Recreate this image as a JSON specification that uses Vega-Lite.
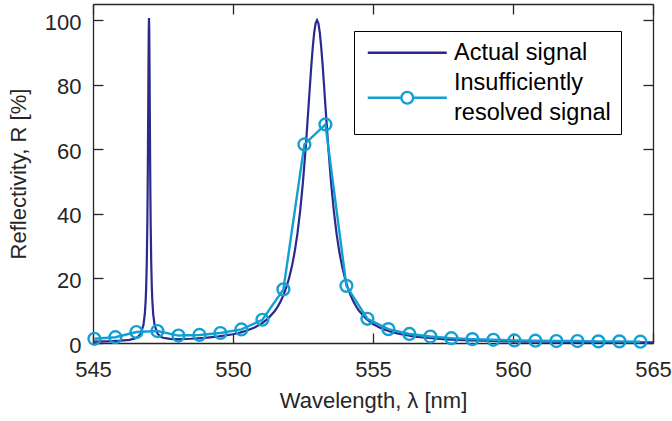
{
  "$schema": "https://vega.github.io/schema/vega-lite/v6.json",
  "width": 560,
  "height": 339,
  "autosize": {"type": "none"},
  "padding": {"left": 93, "top": 4, "right": 19, "bottom": 78},
  "background": "#ffffff",
  "config": {
    "view": {"stroke": null},
    "font": "Liberation Sans",
    "axis": {
      "grid": false,
      "domainColor": "#262626",
      "domainWidth": 1.3,
      "tickColor": "#262626",
      "tickWidth": 1.3,
      "tickSize": -10,
      "labelFlush": false,
      "labelFont": "Liberation Sans",
      "labelFontSize": 22,
      "labelColor": "#262626",
      "titleFont": "Liberation Sans",
      "titleFontSize": 22,
      "titleFontWeight": "normal",
      "titleColor": "#262626"
    }
  },
  "data": {
    "values": [
      {"x": 545.0, "y": 0.44, "s": "Actual signal"},
      {"x": 545.5, "y": 0.53, "s": "Actual signal"},
      {"x": 546.0, "y": 0.71, "s": "Actual signal"},
      {"x": 546.3, "y": 0.96, "s": "Actual signal"},
      {"x": 546.5, "y": 1.39, "s": "Actual signal"},
      {"x": 546.6, "y": 1.85, "s": "Actual signal"},
      {"x": 546.7, "y": 2.83, "s": "Actual signal"},
      {"x": 546.8, "y": 5.47, "s": "Actual signal"},
      {"x": 546.85, "y": 8.92, "s": "Actual signal"},
      {"x": 546.88, "y": 12.96, "s": "Actual signal"},
      {"x": 546.9, "y": 17.47, "s": "Actual signal"},
      {"x": 546.92, "y": 24.67, "s": "Actual signal"},
      {"x": 546.94, "y": 36.67, "s": "Actual signal"},
      {"x": 546.95, "y": 45.37, "s": "Actual signal"},
      {"x": 546.96, "y": 56.57, "s": "Actual signal"},
      {"x": 546.97, "y": 69.87, "s": "Actual signal"},
      {"x": 546.98, "y": 84.17, "s": "Actual signal"},
      {"x": 546.99, "y": 95.97, "s": "Actual signal"},
      {"x": 547.0, "y": 100.69, "s": "Actual signal"},
      {"x": 547.01, "y": 95.97, "s": "Actual signal"},
      {"x": 547.02, "y": 84.17, "s": "Actual signal"},
      {"x": 547.03, "y": 69.87, "s": "Actual signal"},
      {"x": 547.04, "y": 56.57, "s": "Actual signal"},
      {"x": 547.05, "y": 45.4, "s": "Actual signal"},
      {"x": 547.06, "y": 36.7, "s": "Actual signal"},
      {"x": 547.08, "y": 24.7, "s": "Actual signal"},
      {"x": 547.1, "y": 17.5, "s": "Actual signal"},
      {"x": 547.12, "y": 13.0, "s": "Actual signal"},
      {"x": 547.15, "y": 8.97, "s": "Actual signal"},
      {"x": 547.2, "y": 5.56, "s": "Actual signal"},
      {"x": 547.3, "y": 2.96, "s": "Actual signal"},
      {"x": 547.4, "y": 2.04, "s": "Actual signal"},
      {"x": 547.5, "y": 1.62, "s": "Actual signal"},
      {"x": 547.75, "y": 1.26, "s": "Actual signal"},
      {"x": 548.0, "y": 1.19, "s": "Actual signal"},
      {"x": 548.5, "y": 1.31, "s": "Actual signal"},
      {"x": 549.0, "y": 1.59, "s": "Actual signal"},
      {"x": 549.5, "y": 2.03, "s": "Actual signal"},
      {"x": 550.0, "y": 2.72, "s": "Actual signal"},
      {"x": 550.25, "y": 3.21, "s": "Actual signal"},
      {"x": 550.5, "y": 3.86, "s": "Actual signal"},
      {"x": 550.75, "y": 4.72, "s": "Actual signal"},
      {"x": 551.0, "y": 5.89, "s": "Actual signal"},
      {"x": 551.25, "y": 7.56, "s": "Actual signal"},
      {"x": 551.5, "y": 10.0, "s": "Actual signal"},
      {"x": 551.6, "y": 11.31, "s": "Actual signal"},
      {"x": 551.7, "y": 12.89, "s": "Actual signal"},
      {"x": 551.8, "y": 14.79, "s": "Actual signal"},
      {"x": 551.9, "y": 17.12, "s": "Actual signal"},
      {"x": 552.0, "y": 20.0, "s": "Actual signal"},
      {"x": 552.1, "y": 23.58, "s": "Actual signal"},
      {"x": 552.2, "y": 28.09, "s": "Actual signal"},
      {"x": 552.3, "y": 33.78, "s": "Actual signal"},
      {"x": 552.4, "y": 40.98, "s": "Actual signal"},
      {"x": 552.5, "y": 50.0, "s": "Actual signal"},
      {"x": 552.6, "y": 60.98, "s": "Actual signal"},
      {"x": 552.7, "y": 73.53, "s": "Actual signal"},
      {"x": 552.75, "y": 80.0, "s": "Actual signal"},
      {"x": 552.8, "y": 86.21, "s": "Actual signal"},
      {"x": 552.85, "y": 91.74, "s": "Actual signal"},
      {"x": 552.9, "y": 96.15, "s": "Actual signal"},
      {"x": 552.95, "y": 99.0, "s": "Actual signal"},
      {"x": 553.0, "y": 100.0, "s": "Actual signal"},
      {"x": 553.05, "y": 99.0, "s": "Actual signal"},
      {"x": 553.1, "y": 96.15, "s": "Actual signal"},
      {"x": 553.15, "y": 91.74, "s": "Actual signal"},
      {"x": 553.2, "y": 86.21, "s": "Actual signal"},
      {"x": 553.25, "y": 80.0, "s": "Actual signal"},
      {"x": 553.3, "y": 73.53, "s": "Actual signal"},
      {"x": 553.4, "y": 60.98, "s": "Actual signal"},
      {"x": 553.5, "y": 50.0, "s": "Actual signal"},
      {"x": 553.6, "y": 40.98, "s": "Actual signal"},
      {"x": 553.7, "y": 33.78, "s": "Actual signal"},
      {"x": 553.8, "y": 28.09, "s": "Actual signal"},
      {"x": 553.9, "y": 23.58, "s": "Actual signal"},
      {"x": 554.0, "y": 20.0, "s": "Actual signal"},
      {"x": 554.1, "y": 17.12, "s": "Actual signal"},
      {"x": 554.2, "y": 14.79, "s": "Actual signal"},
      {"x": 554.3, "y": 12.89, "s": "Actual signal"},
      {"x": 554.4, "y": 11.31, "s": "Actual signal"},
      {"x": 554.5, "y": 10.0, "s": "Actual signal"},
      {"x": 554.75, "y": 7.55, "s": "Actual signal"},
      {"x": 555.0, "y": 5.88, "s": "Actual signal"},
      {"x": 555.25, "y": 4.71, "s": "Actual signal"},
      {"x": 555.5, "y": 3.85, "s": "Actual signal"},
      {"x": 555.75, "y": 3.2, "s": "Actual signal"},
      {"x": 556.0, "y": 2.7, "s": "Actual signal"},
      {"x": 556.5, "y": 2.0, "s": "Actual signal"},
      {"x": 557.0, "y": 1.54, "s": "Actual signal"},
      {"x": 557.5, "y": 1.22, "s": "Actual signal"},
      {"x": 558.0, "y": 0.99, "s": "Actual signal"},
      {"x": 558.5, "y": 0.82, "s": "Actual signal"},
      {"x": 559.0, "y": 0.69, "s": "Actual signal"},
      {"x": 559.5, "y": 0.59, "s": "Actual signal"},
      {"x": 560.0, "y": 0.51, "s": "Actual signal"},
      {"x": 560.5, "y": 0.44, "s": "Actual signal"},
      {"x": 561.0, "y": 0.39, "s": "Actual signal"},
      {"x": 562.0, "y": 0.31, "s": "Actual signal"},
      {"x": 563.0, "y": 0.25, "s": "Actual signal"},
      {"x": 564.0, "y": 0.21, "s": "Actual signal"},
      {"x": 565.0, "y": 0.17, "s": "Actual signal"},
      {"x": 545.05, "y": 1.3, "s": "Insufficiently resolved signal"},
      {"x": 545.8, "y": 1.8, "s": "Insufficiently resolved signal"},
      {"x": 546.55, "y": 3.4, "s": "Insufficiently resolved signal"},
      {"x": 547.3, "y": 3.7, "s": "Insufficiently resolved signal"},
      {"x": 548.05, "y": 2.3, "s": "Insufficiently resolved signal"},
      {"x": 548.8, "y": 2.5, "s": "Insufficiently resolved signal"},
      {"x": 549.55, "y": 3.1, "s": "Insufficiently resolved signal"},
      {"x": 550.3, "y": 4.2, "s": "Insufficiently resolved signal"},
      {"x": 551.05, "y": 7.2, "s": "Insufficiently resolved signal"},
      {"x": 551.8, "y": 16.6, "s": "Insufficiently resolved signal"},
      {"x": 552.55, "y": 61.5, "s": "Insufficiently resolved signal"},
      {"x": 553.3, "y": 67.7, "s": "Insufficiently resolved signal"},
      {"x": 554.05, "y": 17.7, "s": "Insufficiently resolved signal"},
      {"x": 554.8, "y": 7.5, "s": "Insufficiently resolved signal"},
      {"x": 555.55, "y": 4.3, "s": "Insufficiently resolved signal"},
      {"x": 556.3, "y": 2.8, "s": "Insufficiently resolved signal"},
      {"x": 557.05, "y": 2.0, "s": "Insufficiently resolved signal"},
      {"x": 557.8, "y": 1.5, "s": "Insufficiently resolved signal"},
      {"x": 558.55, "y": 1.2, "s": "Insufficiently resolved signal"},
      {"x": 559.3, "y": 1.0, "s": "Insufficiently resolved signal"},
      {"x": 560.05, "y": 0.8, "s": "Insufficiently resolved signal"},
      {"x": 560.8, "y": 0.7, "s": "Insufficiently resolved signal"},
      {"x": 561.55, "y": 0.6, "s": "Insufficiently resolved signal"},
      {"x": 562.3, "y": 0.6, "s": "Insufficiently resolved signal"},
      {"x": 563.05, "y": 0.5, "s": "Insufficiently resolved signal"},
      {"x": 563.8, "y": 0.5, "s": "Insufficiently resolved signal"},
      {"x": 564.55, "y": 0.4, "s": "Insufficiently resolved signal"}
    ]
  },
  "layer": [
    {
      "transform": [{"filter": "datum.s === 'Actual signal'"}],
      "mark": {"type": "line", "strokeWidth": 2.2},
      "encoding": {
        "x": {
          "field": "x", "type": "quantitative",
          "scale": {"domain": [545, 565], "nice": false, "zero": false},
          "axis": {"orient": "bottom", "values": [545, 550, 555, 560, 565], "labelPadding": 26, "title": "Wavelength, λ [nm]", "titlePadding": 10}
        },
        "y": {
          "field": "y", "type": "quantitative",
          "scale": {"domain": [0, 105], "nice": false, "zero": false},
          "axis": {"orient": "left", "values": [0, 20, 40, 60, 80, 100], "labelPadding": 22, "labelOffset": 2, "title": "Reflectivity, R [%]", "titlePadding": 14}
        },
        "color": {
          "field": "s", "type": "nominal",
          "scale": {"domain": ["Actual signal", "Insufficiently resolved signal"], "range": ["#2b2a8c", "#129fd2"]},
          "legend": {
            "orient": "none", "legendX": 261, "legendY": 27, "title": null,
            "padding": 10, "strokeColor": "#000000", "fillColor": "#ffffff",
            "labelFont": "Liberation Sans", "labelFontSize": 23.5, "labelColor": "#000000",
            "rowPadding": 6, "symbolSize": 400, "symbolStrokeWidth": 2.4, "symbolOffset": 31.5,
            "labelOffset": 35, "labelLimit": 0,
            "labelExpr": "datum.label === 'Insufficiently resolved signal' ? ['Insufficiently', 'resolved signal'] : datum.label",
            "encode": {
              "symbols": {"update": {
                "shape": {"signal": "datum.value === 'Actual signal' ? 'M-3.95,0L3.95,0' : 'M-3.95,0L-0.59,0M0.59,0A0.59,0.59,0,1,1,-0.59,0A0.59,0.59,0,1,1,0.59,0M0.59,0L3.95,0'"},
                "fill": {"value": "transparent"}
              }},
              "labels": {"update": {
                "lineHeight": {"value": 29.5},
                "dy": {"signal": "datum.value === 'Insufficiently resolved signal' ? -14.75 : 0"}
              }}
            }
          }
        }
      }
    },
    {
      "transform": [{"filter": "datum.s === 'Insufficiently resolved signal'"}],
      "mark": {"type": "line", "strokeWidth": 2.4, "point": {"filled": false, "size": 140, "strokeWidth": 2.4}},
      "encoding": {
        "x": {
          "field": "x", "type": "quantitative",
          "scale": {"domain": [545, 565], "nice": false, "zero": false},
          "axis": {"orient": "top", "values": [545, 550, 555, 560, 565], "labels": false, "title": null}
        },
        "y": {
          "field": "y", "type": "quantitative",
          "scale": {"domain": [0, 105], "nice": false, "zero": false},
          "axis": {"orient": "right", "values": [0, 20, 40, 60, 80, 100], "labels": false, "title": null}
        },
        "color": {"field": "s", "type": "nominal"}
      }
    }
  ],
  "resolve": {"axis": {"x": "independent", "y": "independent"}}
}
